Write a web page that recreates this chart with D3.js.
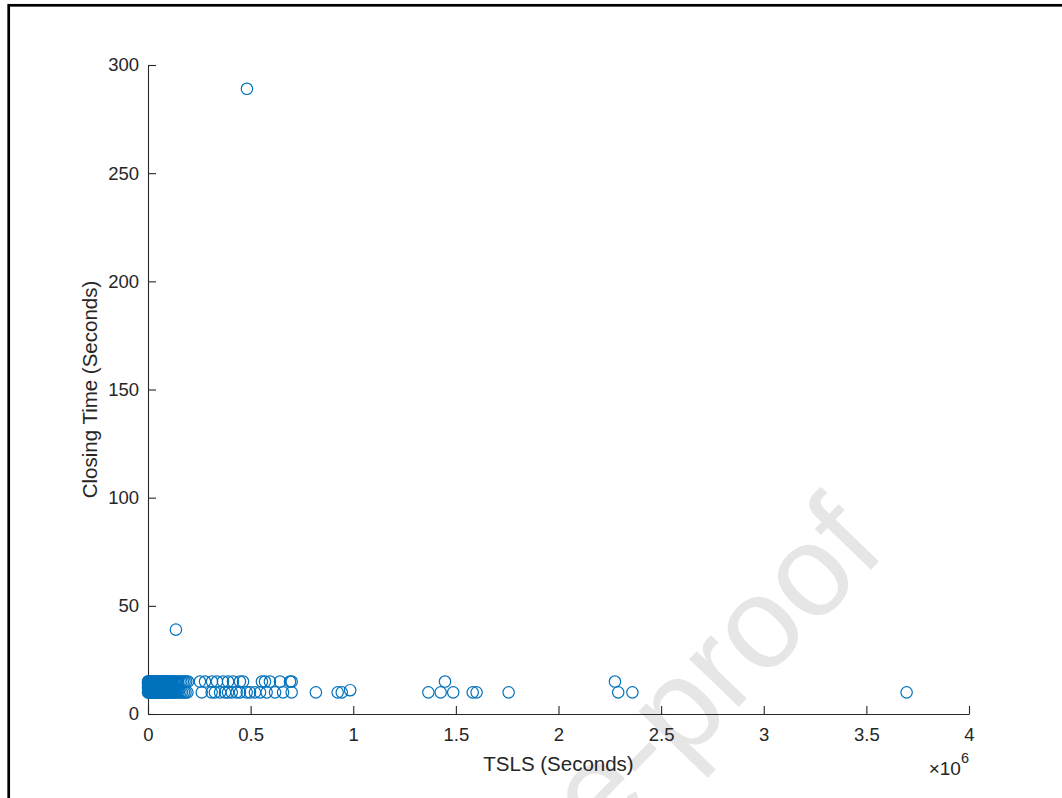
<!DOCTYPE html>
<html>
<head>
<meta charset="utf-8">
<script src="https://cdn.jsdelivr.net/npm/d3@7"></script>
<style>
  html, body { margin: 0; padding: 0; background: #fff; }
  svg { display: block; }
  text { font-family: "Liberation Sans", Arial, Helvetica, sans-serif; }
</style>
</head>
<body>
<svg id="chart" width="1062" height="798"></svg>
<script>
// ---- data (TSLS in seconds, closing time in seconds) ----
const tslsAt10 = [
  0, 2000, 4000, 6000, 8000, 10000, 12000, 14000, 16000, 18000, 20000, 22000, 24000,
  26000, 28000, 31000, 35000, 39000, 43000,
  47000, 50000, 54000, 58000, 62000, 66000, 70000, 74000, 78000, 82000, 86000, 90000,
  95000, 100000, 105000, 110000, 116000, 122000, 128000, 135000, 142000, 150000,
  158000, 166000, 175000, 183000, 192000,
  262000, 310000, 326000, 351000, 375000, 390000, 408000, 432000, 448000, 481000,
  497000, 521000, 546000, 578000, 619000, 658000, 700000,
  818000, 924000, 944000, 1366000, 1426000, 1487000, 1582000, 1601000, 1757000,
  2291000, 2360000, 3696000
];
const tslsAt11 = [
  1000, 3000, 5000, 7000, 9000, 11000, 13000, 15000, 19000, 23000, 27000, 32000,
  37000, 42000, 48000, 55000, 63000, 72000, 81000, 92000, 104000, 118000, 132000, 148000
];
const tslsAt12 = [
  0, 2000, 5000, 8000, 11000, 14000, 18000, 22000, 26000, 30000, 34000, 38000,
  42000, 46000, 51000, 56000, 61000, 67000, 73000, 80000, 88000, 96000, 105000, 115000
];
const tslsAt13 = [
  1000, 4000, 7000, 10000, 13000, 17000, 21000, 25000, 29000, 33000, 37000, 41000,
  45000, 49000, 53000, 58000, 64000, 70000, 77000, 85000, 93000, 102000, 112000, 125000
];
const tslsAt14 = [
  0, 3000, 6000, 9000, 12000, 16000, 20000, 25000, 30000, 36000, 43000, 50000,
  58000, 66000, 75000, 84000, 95000, 107000, 120000, 140000
];
const tslsAt15 = [
  0, 2000, 4000, 6000, 8000, 10000, 12000, 15000, 19000, 23000, 27000, 31000, 34000,
  38000, 42000, 46000,
  51000, 55000, 59000, 63000, 67000, 72000, 76000, 80000, 85000, 89000, 93000, 98000,
  103000, 108000, 113000, 118000, 124000, 131000, 138000, 146000, 154000, 162000,
  170000, 178000, 186000, 195000,
  253000, 278000, 312000, 336000, 365000, 390000, 414000, 448000, 463000, 555000,
  570000, 594000, 643000, 692000, 700000, 1447000, 2275000
];
const otherTsls    = [985000, 136000, 482000];
const otherClosing = [11, 39, 289];

const xTicks = [0, 0.5e6, 1e6, 1.5e6, 2e6, 2.5e6, 3e6, 3.5e6, 4e6];
const xTickLabels = ["0", "0.5", "1", "1.5", "2", "2.5", "3", "3.5", "4"];
const yTicks = [0, 50, 100, 150, 200, 250, 300];

const points = []
  .concat(tslsAt10.map(t => ({ x: t, y: 10 })))
  .concat(tslsAt11.map(t => ({ x: t, y: 11 })))
  .concat(tslsAt12.map(t => ({ x: t, y: 12 })))
  .concat(tslsAt13.map(t => ({ x: t, y: 13 })))
  .concat(tslsAt14.map(t => ({ x: t, y: 14 })))
  .concat(tslsAt15.map(t => ({ x: t, y: 15 })))
  .concat(otherTsls.map((t, i) => ({ x: t, y: otherClosing[i] })));

// ---- layout ----
const svg = d3.select("#chart");
const axisColor = "#262626";
const plotLeft = 148, plotRight = 969, plotTop = 65, plotBottom = 714;

const x = d3.scaleLinear().domain([0, 4e6]).range([plotLeft, plotRight]);
const y = d3.scaleLinear().domain([0, 300]).range([plotBottom, plotTop]);

// watermark
svg.append("text")
  .attr("transform", "translate(888,552) rotate(-46)")
  .attr("text-anchor", "end")
  .attr("font-size", 130)
  .attr("fill", "#e6e6e6")
  .text("Journal Pre-proof");

// frame
svg.append("rect")
  .attr("x", 8.7).attr("y", 5.3)
  .attr("width", 1200).attr("height", 1000)
  .attr("fill", "none").attr("stroke", "#000").attr("stroke-width", 2.7);

// axes
const xAxis = d3.axisBottom(x).tickValues(xTicks)
  .tickFormat((d, i) => xTickLabels[i]).tickSizeInner(-8).tickSizeOuter(0).tickPadding(14);
const yAxis = d3.axisLeft(y).tickValues(yTicks)
  .tickSizeInner(-8).tickSizeOuter(0).tickPadding(9);

const gx = svg.append("g").attr("transform", `translate(0,${plotBottom})`).call(xAxis);
const gy = svg.append("g").attr("transform", `translate(${plotLeft},0)`).call(yAxis);

[gx, gy].forEach(g => {
  g.select(".domain").attr("stroke", axisColor).attr("stroke-width", 1.1);
  g.selectAll(".tick line").attr("stroke", axisColor).attr("stroke-width", 1.1);
  g.selectAll(".tick text").attr("fill", axisColor)
    .attr("font-size", 18.5)
    .attr("font-family", "'Liberation Sans', Arial, sans-serif");
});
gx.selectAll(".tick text").attr("dy", "0.71em");

// points
svg.append("g").selectAll("circle")
  .data(points).join("circle")
  .attr("cx", d => x(d.x))
  .attr("cy", d => y(d.y))
  .attr("r", 5.7)
  .attr("fill", "none")
  .attr("stroke", "#0072BD")
  .attr("stroke-width", 1.2);

// axis labels
svg.append("text")
  .attr("x", (plotLeft + plotRight) / 2).attr("y", 771)
  .attr("text-anchor", "middle")
  .attr("font-size", 20.5).attr("fill", axisColor)
  .text("TSLS (Seconds)");

svg.append("text")
  .attr("transform", `translate(97,${(plotTop + plotBottom) / 2}) rotate(-90)`)
  .attr("text-anchor", "middle")
  .attr("font-size", 20.5).attr("fill", axisColor)
  .text("Closing Time (Seconds)");

// exponent
const exp = svg.append("text")
  .attr("x", 969).attr("y", 775)
  .attr("text-anchor", "end")
  .attr("font-size", 19).attr("fill", axisColor);
exp.append("tspan").text("\u00D710");
exp.append("tspan").attr("dy", -12).attr("font-size", 14.5).text("6");
</script>
</body>
</html>
